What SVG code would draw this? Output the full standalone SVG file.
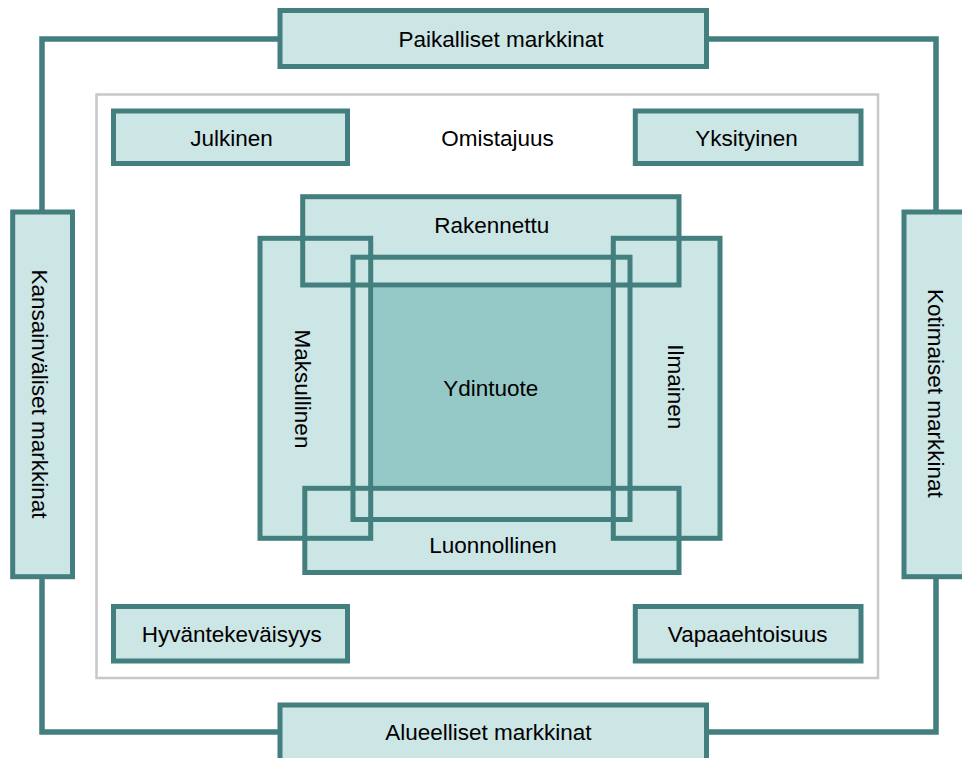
<svg xmlns="http://www.w3.org/2000/svg" width="962" height="758" viewBox="0 0 962 758">
<style>
  .box { fill: #cce5e5; stroke: #437f7e; stroke-width: 5; }
  .frame { fill: none; stroke: #437f7e; stroke-width: 5; }
  .fill { fill: #cce5e5; stroke: none; }
  .core { fill: #95c9c8; stroke: none; }
  .conn { fill: none; stroke: #437f7e; stroke-width: 5.5; }
  .lbl { font-family: "Liberation Sans", Arial, sans-serif; font-size: 22.5px; fill: #000; text-anchor: middle; }
</style>
<rect width="962" height="758" fill="#ffffff"/>

<g id="connectors">
  <polyline class="conn" points="280,39 42,39 42,212"/>
  <polyline class="conn" points="706.5,39 936,39 936,212"/>
  <polyline class="conn" points="42,576.7 42,732 280,732"/>
  <polyline class="conn" points="936,576.7 936,732 706.5,732"/>
</g>

<g id="omistajuus-frame">
  <rect x="96.5" y="94.5" width="781.5" height="583.5" fill="none" stroke="#c8c8c8" stroke-width="2.5"/>
  <text class="lbl" x="497.5" y="145.5">Omistajuus</text>
</g>

<g id="paikalliset">
  <rect class="box" x="280" y="10.5" width="426.5" height="56"/>
  <text class="lbl" x="501" y="46.5">Paikalliset markkinat</text>
</g>
<g id="alueelliset">
  <rect class="box" x="280" y="705" width="426.5" height="58"/>
  <text class="lbl" x="488.3" y="740">Alueelliset markkinat</text>
</g>
<g id="kansainvaliset">
  <rect class="box" x="12.7" y="212" width="59.8" height="364.7"/>
  <text class="lbl" transform="translate(32,394) rotate(90)" x="0" y="0">Kansainväliset markkinat</text>
</g>
<g id="kotimaiset">
  <rect class="box" x="904" y="212" width="62" height="364.7"/>
  <text class="lbl" transform="translate(928,393.3) rotate(90)" x="0" y="0">Kotimaiset markkinat</text>
</g>

<g id="julkinen">
  <rect class="box" x="113.5" y="111" width="234" height="52.5"/>
  <text class="lbl" x="231.5" y="145.5">Julkinen</text>
</g>
<g id="yksityinen">
  <rect class="box" x="635.3" y="111" width="225.7" height="52.5"/>
  <text class="lbl" x="746.5" y="145.5">Yksityinen</text>
</g>
<g id="hyvantekevaisyys">
  <rect class="box" x="113.5" y="606.5" width="234" height="54.5"/>
  <text class="lbl" x="231.7" y="642.3">Hyväntekeväisyys</text>
</g>
<g id="vapaaehtoisuus">
  <rect class="box" x="635.3" y="606.5" width="225.7" height="54.5"/>
  <text class="lbl" x="747.7" y="642.3">Vapaaehtoisuus</text>
</g>

<g id="center-fills">
  <rect class="fill" x="302.7" y="196.7" width="376.3" height="88.3"/>
  <rect class="fill" x="260" y="238.3" width="110.7" height="300"/>
  <rect class="fill" x="613.3" y="238.3" width="106.7" height="300"/>
  <rect class="fill" x="304.8" y="488.3" width="374.2" height="84.2"/>
  <rect class="fill" x="353" y="257.2" width="277" height="262.3"/>
  <rect class="core" x="373.3" y="287.7" width="237.4" height="198"/>
</g>

<g id="rakennettu">
  <rect class="frame" x="302.7" y="196.7" width="376.3" height="88.3"/>
  <text class="lbl" x="491.7" y="233.3">Rakennettu</text>
</g>
<g id="maksullinen">
  <rect class="frame" x="260" y="238.3" width="110.7" height="300"/>
  <text class="lbl" transform="translate(294.5,389) rotate(90)" x="0" y="0">Maksullinen</text>
</g>
<g id="ilmainen">
  <rect class="frame" x="613.3" y="238.3" width="106.7" height="300"/>
  <text class="lbl" transform="translate(667.5,386.7) rotate(90)" x="0" y="0">Ilmainen</text>
</g>
<g id="luonnollinen">
  <rect class="frame" x="304.8" y="488.3" width="374.2" height="84.2"/>
  <text class="lbl" x="493" y="553.3">Luonnollinen</text>
</g>
<g id="ydintuote">
  <rect class="frame" x="353" y="257.2" width="277" height="262.3"/>
  <text class="lbl" x="490.8" y="395.7">Ydintuote</text>
</g>
</svg>
